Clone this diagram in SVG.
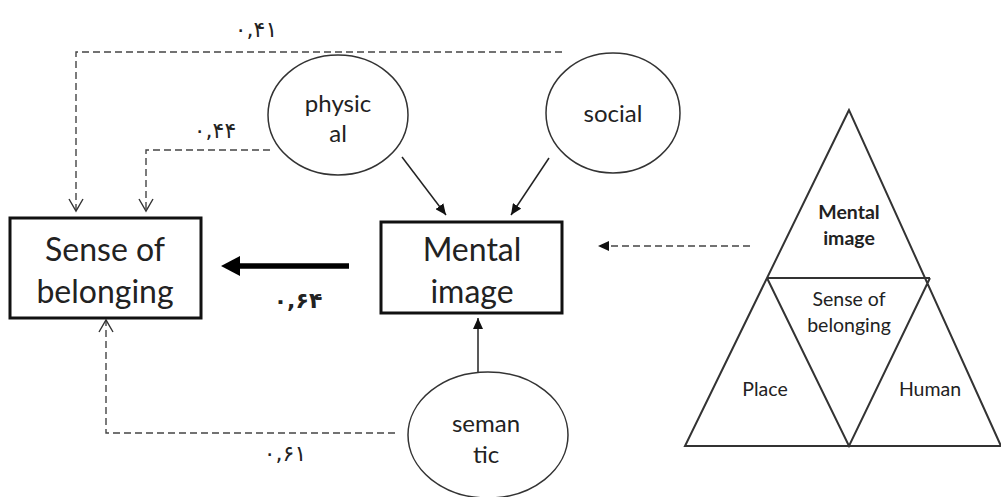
<svg xmlns="http://www.w3.org/2000/svg" width="1001" height="497" viewBox="0 0 1001 497">
<style>
text{font-family:Lato,"Liberation Sans","DejaVu Sans",sans-serif;fill:#222;text-anchor:middle;dominant-baseline:central}
.big{font-size:32px}
.mid{font-size:24px}
.sm{font-size:19.5px}
.num{font-family:"DejaVu Sans","Noto Sans",sans-serif;font-size:22px;letter-spacing:4px}
.box{fill:#fff;stroke:#111;stroke-width:3}
.ell{fill:#fff;stroke:#333;stroke-width:1.5}
.dash{fill:none;stroke:#444;stroke-width:1.4;stroke-dasharray:7 4}
.solid{fill:none;stroke:#222;stroke-width:1.5}
.tri{fill:none;stroke:#333;stroke-width:2}
</style>
<defs>
<marker id="open" markerWidth="16" markerHeight="16" refX="13" refY="8" orient="auto" markerUnits="userSpaceOnUse"><path d="M1,1 L13,8 L1,15" fill="none" stroke="#333" stroke-width="1.4"/></marker>
<marker id="fill" markerWidth="12" markerHeight="10" refX="11" refY="5" orient="auto" markerUnits="userSpaceOnUse"><path d="M0,0 L11,5 L0,10 z" fill="#111"/></marker>
</defs>
<g id="connectors">
<path class="dash" d="M562,52 H76 V211" marker-end="url(#open)"/>
<path class="dash" d="M270,150 H146 V211" marker-end="url(#open)"/>
<path class="dash" d="M395,433 H106 V320" marker-end="url(#open)"/>
<path class="dash" d="M750,246 H598" marker-end="url(#fill)"/>
<path class="solid" d="M402,157 L446,215" marker-end="url(#fill)"/>
<path class="solid" d="M549,158 L511,215" marker-end="url(#fill)"/>
<path class="solid" d="M478,372 V318" marker-end="url(#fill)"/>
<path d="M349,266 H236" fill="none" stroke="#000" stroke-width="5.5"/>
<path d="M221,266 L240,256 L240,276 z" fill="#000"/>
<text class="num" x="256" y="29">۰,۴۱</text>
<text class="num" x="215" y="130">۰,۴۴</text>
<text class="num" x="298" y="300" font-weight="bold">۰,۶۴</text>
<text class="num" x="285" y="453">۰,۶۱</text>
</g>
<g id="sense">
<rect class="box" x="10" y="218" width="191" height="100"/>
<text class="big" x="105" y="248">Sense of</text>
<text class="big" x="105" y="290">belonging</text>
</g>
<g id="mental">
<rect class="box" x="381" y="222" width="181" height="91"/>
<text class="big" x="472" y="248">Mental</text>
<text class="big" x="472" y="290">image</text>
</g>
<g id="physical">
<ellipse class="ell" cx="338" cy="115" rx="70" ry="60"/>
<text class="mid" x="338" y="102">physic</text>
<text class="mid" x="338" y="132">al</text>
</g>
<g id="social">
<ellipse class="ell" cx="613" cy="113" rx="67" ry="60"/>
<text class="mid" x="613" y="112">social</text>
</g>
<g id="semantic">
<ellipse class="ell" cx="488" cy="435" rx="80" ry="63"/>
<text class="mid" x="486" y="422">seman</text>
<text class="mid" x="486" y="453">tic</text>
</g>
<g id="triangle">
<path class="tri" d="M849,110 L685,446 H1001 Z M767,278 H930 M767,278 L849,446 L930,278"/>
<text class="sm" x="849" y="211" font-weight="bold">Mental</text>
<text class="sm" x="849" y="237" font-weight="bold">image</text>
<text class="sm" x="849" y="298">Sense of</text>
<text class="sm" x="849" y="324">belonging</text>
<text class="sm" x="765" y="388">Place</text>
<text class="sm" x="930" y="388">Human</text>
</g>
</svg>
